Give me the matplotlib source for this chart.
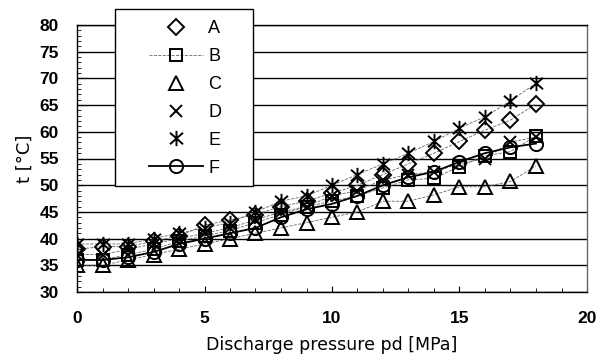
import numpy as np
import matplotlib
matplotlib.use("Agg")
from matplotlib import pyplot as plt
from matplotlib.patches import Rectangle
from matplotlib.path import Path
from matplotlib.ticker import MultipleLocator

plt.rcParams["font.family"] = ["Liberation Sans", "DejaVu Sans"]

# Discharge pressure [MPa]
pd = np.arange(0, 19)

# Temperature t [°C] for each case
t_a = [38, 38.5, 38.5, 39.5, 40.5, 42.5, 43.5, 44.5, 46, 47, 48.5, 50, 52, 54, 56, 58.2, 60.3, 62.2, 65.2]
t_b = [36, 36, 37, 38, 39.5, 40.5, 41.5, 43, 44.5, 46, 47, 48, 49.5, 51, 51.3, 53.5, 55.5, 56.3, 59.2]
t_c = [35, 35, 36, 37, 38, 39, 40, 41, 42, 43, 44, 45, 47, 47, 48.2, 49.7, 49.7, 50.7, 53.6]
t_d = [37, 37, 38, 39, 40, 41, 42, 43.5, 45, 46, 48, 49, 51, 52, 52.5, 54, 55, 58.1, 59]
t_e = [39, 39, 39, 40, 41, 42, 43, 45, 47, 48, 50, 52, 54, 56, 58.2, 60.7, 62.8, 65.8, 69.1]
t_f = [36, 36, 36.5, 37.5, 39, 40, 41, 42, 44, 45.5, 46.5, 48, 50, 51.5, 52.5, 54.4, 56, 57.1, 57.8]

# asterisk drawn as an X with a vertical bar
star = Path([(0, -1), (0, 1), (-0.85, -0.75), (0.85, 0.75), (-0.85, 0.75), (0.85, -0.75)],
            [Path.MOVETO, Path.LINETO, Path.MOVETO, Path.LINETO, Path.MOVETO, Path.LINETO])

series = [
    ("A", t_a, "D", 8.5, "--"),
    ("B", t_b, "s", 9, "--"),
    ("C", t_c, "^", 10, "--"),
    ("D", t_d, "x", 9, "--"),
    ("E", t_e, star, 11, "--"),
    ("F", t_f, "o", 9.5, "-"),
]

fig = plt.figure(figsize=(6.07, 3.61), dpi=100)
ax = fig.add_axes([77 / 607, 1 - 292 / 361, 510 / 607, 267 / 361])

handles = []
for name, vals, mk, ms, ls in series:
    if ls == "-":
        lw, lc = 1.3, "black"
    else:
        lw, lc = 0.6, "#666666"
    ax.plot(pd, vals, linestyle=ls, linewidth=lw, color=lc, zorder=2)
    ax.plot(pd, vals, linestyle="none", marker=mk, markersize=ms,
            markerfacecolor="none", markeredgecolor="black", markeredgewidth=1.4, zorder=3)
    # legend handle
    if name == "B":
        h, = ax.plot([], [], linestyle="--", linewidth=0.6, color="#666666", marker=mk, markersize=ms,
                     markerfacecolor="none", markeredgecolor="black", markeredgewidth=1.4)
    elif name == "F":
        h, = ax.plot([], [], linestyle="-", linewidth=1.3, color="black", marker=mk, markersize=ms,
                     markerfacecolor="none", markeredgecolor="black", markeredgewidth=1.4)
    else:
        h, = ax.plot([], [], linestyle="none", marker=mk, markersize=ms,
                     markerfacecolor="none", markeredgecolor="black", markeredgewidth=1.4)
    handles.append(h)

ax.set_xlim(0, 20)
ax.set_ylim(30, 80)
ax.xaxis.set_major_locator(MultipleLocator(5))
ax.xaxis.set_minor_locator(MultipleLocator(1))
ax.yaxis.set_major_locator(MultipleLocator(5))
ax.yaxis.set_minor_locator(MultipleLocator(1))
ax.tick_params(which="both", direction="in", top=False, right=False)
ax.tick_params(which="major", length=4, labelsize=12.5)
ax.tick_params(axis="y", which="major", pad=13)
ax.tick_params(axis="x", which="major", pad=14)
ax.tick_params(which="minor", length=3)
for lab in ax.get_xticklabels() + ax.get_yticklabels():
    lab.set_fontweight("bold")
ax.grid(axis="y", which="major", color="black", linewidth=1.0)
ax.set_axisbelow(True)
for sp in ax.spines.values():
    sp.set_linewidth(1.0)
ax.spines["right"].set_color("#666666")

ax.set_xlabel("Discharge pressure pd [MPa]", fontsize=12.5, family="DejaVu Sans", labelpad=7)
ax.set_ylabel("t [°C]", fontsize=13, family="DejaVu Sans", labelpad=4)

# legend box
fig.patches.append(Rectangle((115 / 607, 1 - 186 / 361), 138 / 607, 177 / 361,
                             transform=fig.transFigure, facecolor="white",
                             edgecolor="black", linewidth=1.0, zorder=5))
leg = fig.legend(handles, [s[0] for s in series], loc="center",
                 bbox_to_anchor=(185 / 607, 1 - 98.5 / 361), frameon=False,
                 fontsize=13, handlelength=3.0, handletextpad=0.3,
                 labelspacing=0.6, borderpad=0)
leg.set_zorder(6)

fig.savefig("out.png", dpi=100)
